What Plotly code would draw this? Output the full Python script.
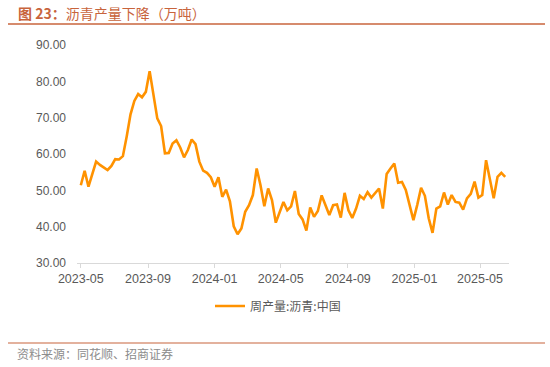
import pandas as pd
import plotly.graph_objects as go

# Weekly asphalt production, China (10k tonnes)
start_date = "2023-05-01"
values = [
    51.4, 55.4, 51.0, 54.8, 57.9, 57.0, 56.3, 55.6, 56.7, 58.6,
    58.5, 59.4, 64.8, 70.9, 74.6, 76.5, 75.6, 77.1, 82.8, 76.2,
    69.8, 67.7, 60.2, 60.3, 62.9, 63.8, 61.8, 59.1, 61.1, 64.0,
    62.7, 57.9, 55.4, 54.8, 53.6, 51.0, 53.6, 48.2, 50.2, 47.0,
    40.1, 37.9, 39.5, 44.1, 45.9, 48.7, 56.0, 51.4, 45.6, 50.5,
    47.3, 41.1, 43.8, 46.8, 44.5, 45.6, 49.8, 43.5, 42.0, 38.9,
    45.3, 42.7, 44.3, 48.6, 45.9, 43.2, 45.9, 46.1, 42.5, 49.3,
    44.5, 42.4, 45.0, 48.5, 47.6, 49.5, 48.0, 49.2, 50.5, 45.0,
    54.5, 56.0, 57.4, 52.1, 52.3, 50.1, 46.0, 41.8, 46.0, 50.7,
    48.5, 42.3, 38.3, 45.0, 45.6, 49.4, 46.1, 48.7, 46.8, 46.6,
    44.7, 47.8, 49.0, 52.4, 48.0, 48.7, 58.3, 53.0, 47.8, 53.7,
    54.8, 53.7,
]
dates = pd.date_range(start_date, periods=len(values), freq="7D")

x_ticks = ["2023-05-01", "2023-09-01", "2024-01-01", "2024-05-01",
           "2024-09-01", "2025-01-01", "2025-05-01"]
x_tick_labels = ["2023-05", "2023-09", "2024-01", "2024-05",
                 "2024-09", "2025-01", "2025-05"]
y_ticks = [30, 40, 50, 60, 70, 80, 90]

title_text = "<b>图 23：</b>沥青产量下降（万吨）"
series_name = "周产量:沥青:中国"
source_text = "资料来源：同花顺、招商证券"

LINE_COLOR = "#FF9200"
ACCENT = "#C8643C"
GREY = "#595959"

fig = go.Figure()
fig.add_trace(go.Scatter(
    x=dates, y=values, mode="lines", name=series_name,
    line=dict(color=LINE_COLOR, width=2.6),
))

L, R, T, B = 77, 41, 45, 104
W, H = 550, 367
pw, ph = W - L - R, H - T - B

def px_x(px):
    return (px - L) / pw

def px_y(py):
    return (H - B - py) / ph

fig.update_layout(
    width=W, height=H,
    margin=dict(l=L, r=R, t=T, b=B),
    paper_bgcolor="white", plot_bgcolor="white",
    font=dict(family="Liberation Sans, Arial, sans-serif", color=GREY, size=12),
    showlegend=True,
    legend=dict(
        orientation="h", x=px_x(210), xanchor="left",
        y=px_y(306), yanchor="middle",
        font=dict(family="Noto Sans CJK SC", size=12, color=GREY),
        bgcolor="rgba(0,0,0,0)",
    ),
    xaxis=dict(
        type="date",
        range=["2023-04-24", "2025-06-23"],
        tickvals=x_ticks, ticktext=x_tick_labels,
        showgrid=False, zeroline=False,
        showline=True, linecolor="#D9D9D9", linewidth=1,
        ticks="outside", ticklen=4, tickcolor="#D9D9D9",
        tickfont=dict(size=12.5, color=GREY),
    ),
    yaxis=dict(
        range=[30, 90], tickvals=y_ticks, tickformat=".2f",
        showgrid=False, zeroline=False, showline=False,
        ticks="", ticklabelstandoff=10,
        tickfont=dict(size=12, color=GREY),
    ),
    annotations=[
        dict(text=title_text, xref="paper", yref="paper",
             x=px_x(16), y=px_y(13), xanchor="left", yanchor="middle",
             showarrow=False,
             font=dict(family="Noto Sans CJK SC", size=14, color=ACCENT)),
        dict(text=source_text, xref="paper", yref="paper",
             x=px_x(15), y=px_y(353), xanchor="left", yanchor="middle",
             showarrow=False,
             font=dict(family="Noto Sans CJK SC", size=12, color="#8C8C8C")),
    ],
    shapes=[
        dict(type="line", xref="paper", yref="paper",
             x0=px_x(8), x1=px_x(545), y0=px_y(24), y1=px_y(24),
             line=dict(color=ACCENT, width=1.5)),
        dict(type="line", xref="paper", yref="paper",
             x0=px_x(8), x1=px_x(545), y0=px_y(343), y1=px_y(343),
             line=dict(color=ACCENT, width=1.2)),
    ],
)

fig.write_html("out.html", config={"displayModeBar": False},
               post_script="document.body.style.margin='0';")
